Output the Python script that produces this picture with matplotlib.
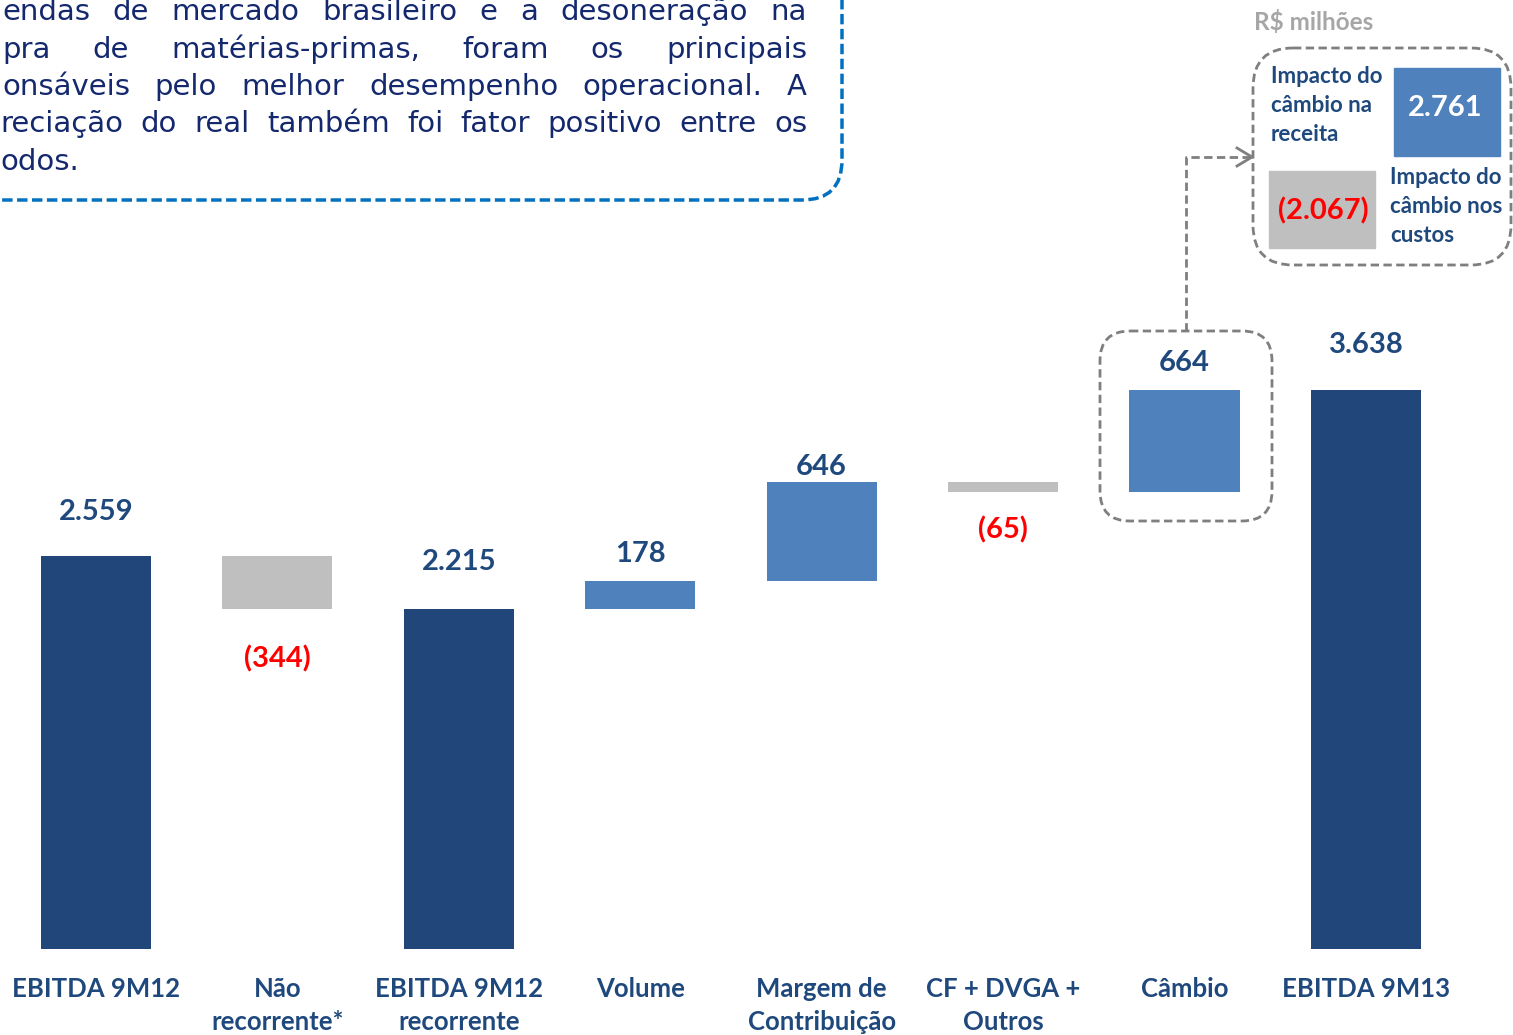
import matplotlib
matplotlib.use('Agg')
import matplotlib.pyplot as plt
from matplotlib.patches import FancyBboxPatch, Rectangle
from matplotlib.transforms import blended_transform_factory

# --- data -----------------------------------------------------------------
categories = ['EBITDA 9M12', 'Não\nrecorrente*', 'EBITDA 9M12\nrecorrente', 'Volume',
              'Margem de\nContribuição', 'CF + DVGA +\nOutros', 'Câmbio', 'EBITDA 9M13']
steps = [2559, -344, 2215, 178, 646, -65, 664, 3638]
kinds = ['total', 'delta', 'total', 'delta', 'delta', 'delta', 'delta', 'total']
value_labels = ['2.559', '(344)', '2.215', '178', '646', '(65)', '664', '3.638']

fx_labels = ['Impacto do\ncâmbio na\nreceita', 'Impacto do\ncâmbio nos\ncustos']
fx_values = ['2.761', '(2.067)']
unit_label = 'R$ milhões'

note_lines = [
    'endas de mercado brasileiro e a desoneração na',
    'pra de matérias-primas, foram os principais',
    'onsáveis pelo melhor desempenho operacional. A',
    'reciação do real também foi fator positivo entre os',
    'odos.',
]

# --- style ------------------------------------------------------------------
DARK = '#21477A'
BLUE = '#4F81BD'
GREY = '#BFBFBF'
NAVY = '#1F497D'
RED = '#FF0000'
plt.rcParams['font.family'] = ['Lato', 'DejaVu Sans']

W, H = 1513, 1035
fig = plt.figure(figsize=(W / 100, H / 100), dpi=100)

# chart axes (data units)
ax = fig.add_axes([0, 0, 1, 1])
ax.set_xlim(-0.529, 7.811)
ax.set_ylim(-560, 6178)
ax.axis('off')

# overlay axes in pixel units for the decorations
px = fig.add_axes([0, 0, 1, 1], zorder=3)
px.set_xlim(0, W)
px.set_ylim(H, 0)
px.axis('off')
px.patch.set_alpha(0)

# --- waterfall --------------------------------------------------------------
running = 0
bottoms, heights, colors = [], [], []
for v, k in zip(steps, kinds):
    if k == 'total':
        bottoms.append(0)
        heights.append(v)
        colors.append(DARK)
        running = v
    else:
        bottoms.append(running if v > 0 else running + v)
        heights.append(abs(v))
        colors.append(BLUE if v > 0 else GREY)
        running += v

xs = list(range(len(categories)))
ax.bar(xs, heights, bottom=bottoms, width=0.607, color=colors)

label_gap_px = [44, 50, 47, 27, 15, 38, 27, 45]
for i, (v, lab) in enumerate(zip(steps, value_labels)):
    neg = v < 0
    y = bottoms[i] if neg else bottoms[i] + heights[i]
    ax.annotate(lab, (i, y), xytext=(0, -label_gap_px[i] if neg else label_gap_px[i]),
                textcoords='offset pixels', ha='center', va='center',
                fontsize=21, fontweight='bold', color=RED if neg else NAVY)

tr = blended_transform_factory(ax.transData, px.transData)
for i, cat in enumerate(categories):
    px.text(i, 977, cat, transform=tr, ha='center', va='top', fontsize=18.5,
            fontweight='bold', color=NAVY, linespacing=1.47)

# --- top-left note box ------------------------------------------------------
px.add_patch(FancyBboxPatch((-300, -300), 842 + 300, 200 + 300,
                            boxstyle='round,pad=0,rounding_size=40', fill=False,
                            edgecolor='#0070C0', lw=2.5, ls=(0, (3, 1.3))))

renderer = fig.canvas.get_renderer()
note_kw = dict(fontsize=21, color='#14286E', va='center', family=['DejaVu Sans'])
starts = [2, 2, 2, 0, 0]
for j, line in enumerate(note_lines):
    y = 12 + 37.5 * j
    words = line.split(' ')
    texts = [px.text(0, y, w, **note_kw) for w in words]
    widths = [t.get_window_extent(renderer).width for t in texts]
    if j < len(note_lines) - 1:
        gap = max(5, (807 - starts[j] - sum(widths)) / (len(words) - 1))
    else:
        gap = 7
    x = starts[j]
    for t, w in zip(texts, widths):
        t.set_x(x)
        x += w + gap

# --- câmbio detail ----------------------------------------------------------
dash = dict(fill=False, edgecolor='#7F7F7F', lw=2, ls=(0, (3, 1.6)))
px.add_patch(FancyBboxPatch((1100, 331), 172, 190, boxstyle='round,pad=0,rounding_size=30', **dash))
px.add_patch(FancyBboxPatch((1253, 48), 258, 217, boxstyle='round,pad=0,rounding_size=40', **dash))
px.plot([1186, 1186, 1250], [331, 157, 157], color='#7F7F7F', lw=2, ls=(0, (3, 1.6)))
px.plot([1237, 1252, 1237], [148, 157, 166], color='#7F7F7F', lw=2)

px.add_patch(Rectangle((1394, 68), 106, 88, color=BLUE))
px.add_patch(Rectangle((1269, 171), 106, 77, color=GREY))
px.text(1445, 108, fx_values[0], ha='center', va='center', fontsize=21,
        fontweight='bold', color='white')
px.text(1323, 211, fx_values[1], ha='center', va='center', fontsize=21,
        fontweight='bold', color=RED)
px.text(1271, 66, fx_labels[0], ha='left', va='top', fontsize=16,
        fontweight='bold', color=NAVY, linespacing=1.46)
px.text(1390, 167, fx_labels[1], ha='left', va='top', fontsize=16,
        fontweight='bold', color=NAVY, linespacing=1.46)
px.text(1314, 22, unit_label, ha='center', va='center', fontsize=17.5,
        fontweight='bold', color='#A6A6A6')

fig.savefig('out.png', dpi=100)
